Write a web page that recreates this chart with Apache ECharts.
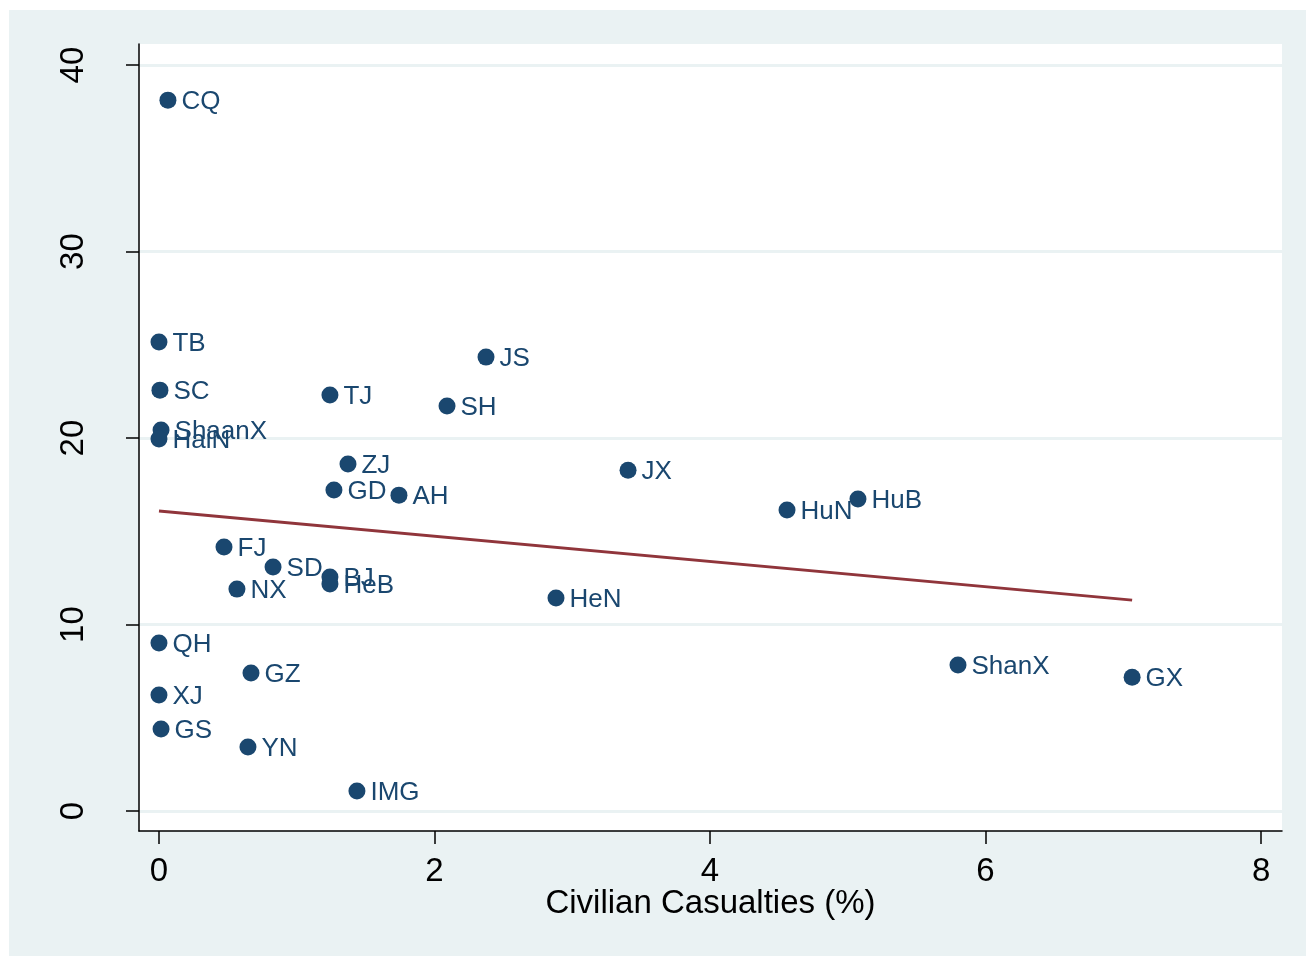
<!DOCTYPE html>
<html>
<head>
<meta charset="utf-8">
<script src="https://cdn.jsdelivr.net/npm/echarts@6/dist/echarts.min.js"></script>
<style>
  html, body { margin: 0; padding: 0; background: #fff; }
  #bg { position: absolute; left: 9px; top: 10px; width: 1297px; height: 946px; background: #eaf2f3; }
  #chart { position: absolute; left: 0; top: 0; width: 1306px; height: 956px; }
</style>
</head>
<body>
<div id="bg"></div>
<div id="chart"></div>
<script>
// province labels and values
var provinces = ['CQ', 'TB', 'SC', 'ShaanX', 'HaiN', 'TJ', 'JS', 'SH', 'ZJ', 'GD', 'AH', 'JX', 'HuN', 'HuB',
  'FJ', 'SD', 'BJ', 'HeB', 'NX', 'HeN', 'QH', 'GZ', 'XJ', 'GS', 'YN', 'IMG', 'ShanX', 'GX'];
var casualties = [0.065, 0, 0.007, 0.015, 0, 1.241, 2.374, 2.091, 1.372, 1.27, 1.742, 3.405, 4.559, 5.074,
  0.472, 0.828, 1.241, 1.241, 0.566, 2.882, 0, 0.668, 0, 0.015, 0.646, 1.437, 5.8, 7.064];
var yValues = [38.12, 25.15, 22.57, 20.43, 19.95, 22.31, 24.34, 21.72, 18.61, 17.21, 16.94, 18.28, 16.14, 16.73,
  14.16, 13.08, 12.55, 12.17, 11.9, 11.42, 9.01, 7.4, 6.22, 4.4, 3.43, 1.07, 7.83, 7.18];
// linear fit endpoints
var fitX = [0, 7.064];
var fitY = [16.09, 11.31];
var xTicks = [0, 2, 4, 6, 8];
var yTicks = [0, 10, 20, 30, 40];

var navy = '#1a476f';
var font = '"Liberation Sans", Arial, sans-serif';

var chart = echarts.init(document.getElementById('chart'));

var points = provinces.map(function (p, i) {
  return { name: p, value: [casualties[i], yValues[i]] };
});
var fit = fitX.map(function (x, i) { return [x, fitY[i]]; });

chart.setOption({
  animation: false,
  backgroundColor: 'transparent',
  grid: {
    left: 139, right: 24, top: 44, bottom: 125,
    show: true, backgroundColor: '#fff', borderWidth: 0
  },
  xAxis: {
    type: 'value',
    min: -0.145, max: 8.152,
    name: 'Civilian Casualties (%)',
    nameLocation: 'middle',
    nameGap: 56,
    nameMoveOverlap: false,
    nameTextStyle: { color: '#000', fontSize: 33, fontFamily: font },
    axisLine: { show: true, onZero: false, lineStyle: { color: '#000', width: 1.5 } },
    axisTick: { show: true, length: 13, customValues: xTicks, lineStyle: { color: '#000', width: 1.5 } },
    axisLabel: { customValues: xTicks, color: '#000', fontSize: 33, fontFamily: font, margin: 24 },
    splitLine: { show: false }
  },
  yAxis: {
    type: 'value',
    min: -1.07, max: 41.13,
    axisLine: { show: true, onZero: false, lineStyle: { color: '#000', width: 1.5 } },
    axisTick: { show: true, length: 13, customValues: yTicks, lineStyle: { color: '#000', width: 1.5 } },
    axisLabel: { customValues: yTicks, rotate: 90, color: '#000', fontSize: 33, fontFamily: font, margin: 49 },
    splitLine: { show: true, lineStyle: { color: '#eaf2f3', width: 3 } }
  },
  series: [
    {
      type: 'scatter',
      data: points,
      symbolSize: 17,
      itemStyle: { color: navy, opacity: 1 },
      label: {
        show: true,
        position: 'right',
        distance: 5,
        offset: [0, 2],
        formatter: '{b}',
        color: navy,
        fontSize: 26,
        fontFamily: font
      },
      z: 3
    },
    {
      type: 'line',
      data: fit,
      symbol: 'none',
      lineStyle: { color: '#90353b', width: 3 },
      z: 2
    }
  ]
});
</script>
</body>
</html>
